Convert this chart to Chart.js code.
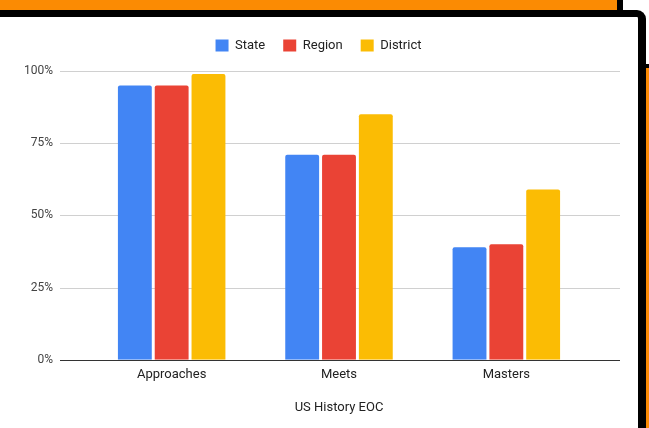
<!DOCTYPE html>
<html>
<head>
<meta charset="utf-8">
<script src="https://cdn.jsdelivr.net/npm/chart.js@4"></script>
<style>
  body { margin: 0; width: 649px; height: 428px; overflow: hidden; background: #fff; position: relative; }
  .blk { position: absolute; }
  #chartBox { position: absolute; left: 0; top: 17px; width: 637px; height: 411px; }
</style>
</head>
<body>
<div class="blk" style="left:0;top:0;width:617px;height:11px;background:#fb8b03;"></div>
<div class="blk" style="left:617px;top:0;width:6px;height:12px;background:#000;"></div>
<div class="blk" style="left:-10px;top:10px;width:648px;height:440px;border-top:7px solid #000;border-right:8px solid #000;border-top-right-radius:9px;background:#fff;"></div>
<div class="blk" style="left:646px;top:64px;width:3px;height:4px;background:#000;"></div>
<div class="blk" style="left:646px;top:68px;width:3px;height:360px;background:#fb8b03;"></div>
<div id="chartBox"><canvas id="eocChart"></canvas></div>
<script>
const categories = ['Approaches', 'Meets', 'Masters'];
const stateVals = [95, 71, 39];
const regionVals = [95, 71, 40];
const districtVals = [99, 85, 59];
const yTicks = [0, 25, 50, 75, 100];

// google-style gridlines that run wider than the bar area
const wideGrid = {
    id: 'wideGrid',
    beforeDatasetsDraw(chart) {
        const ctx = chart.ctx;
        const y = chart.scales.y;
        ctx.save();
        yTicks.forEach(t => {
            const py = Math.round(y.getPixelForValue(t)) + 0.5;
            ctx.strokeStyle = t === 0 ? '#333' : '#d0d0d0';
            ctx.lineWidth = 1;
            ctx.beginPath();
            ctx.moveTo(60, py);
            ctx.lineTo(620, py);
            ctx.stroke();
        });
        ctx.restore();
    }
};

// a bit more room under the legend
const legendGap = {
    id: 'legendGap',
    beforeInit(chart) {
        const fit = chart.legend.fit;
        chart.legend.fit = function () {
            fit.call(this);
            this.height += 9;
        };
    }
};

const ctx = document.getElementById('eocChart').getContext('2d');
new Chart(ctx, {
    type: 'bar',
    data: {
        labels: categories,
        datasets: [
            { label: 'State', data: stateVals, backgroundColor: '#4285f4' },
            { label: 'Region', data: regionVals, backgroundColor: '#ea4335' },
            { label: 'District', data: districtVals, backgroundColor: '#fbbc04' }
        ]
    },
    options: {
        responsive: true,
        maintainAspectRatio: false,
        animation: false,
        categoryPercentage: 0.66,
        barPercentage: 0.92,
        borderRadius: 2,
        borderSkipped: 'bottom',
        layout: { padding: { left: 0, right: 0, top: 4, bottom: 8 } },
        font: { family: 'Roboto' },
        scales: {
            x: {
                grid: { display: false, drawTicks: false },
                border: { display: false },
                ticks: { color: '#222', font: { family: 'Roboto', size: 13 }, padding: 7 },
                title: {
                    display: true,
                    text: 'US History EOC',
                    color: '#222',
                    font: { family: 'Roboto', size: 13 },
                    padding: { top: 11 }
                }
            },
            y: {
                min: 0,
                max: 100,
                afterFit(scale) { scale.width = 88; },
                grid: { display: false, drawTicks: false },
                border: { display: false },
                ticks: {
                    stepSize: 25,
                    padding: 35,
                    color: '#444',
                    font: { family: 'Roboto', size: 12 },
                    callback: v => v + '%'
                }
            },
            // empty spacer on the right so the legend stays centred on the canvas
            yRight: {
                position: 'right',
                afterFit(scale) { scale.width = 47; },
                grid: { display: false, drawTicks: false },
                border: { display: false },
                ticks: { display: false }
            }
        },
        plugins: {
            legend: {
                position: 'top',
                labels: {
                    boxWidth: 13,
                    boxHeight: 12,
                    padding: 18,
                    color: '#222',
                    font: { family: 'Roboto', size: 13 }
                }
            },
            tooltip: { enabled: false }
        }
    },
    plugins: [wideGrid, legendGap]
});
</script>
</body>
</html>
